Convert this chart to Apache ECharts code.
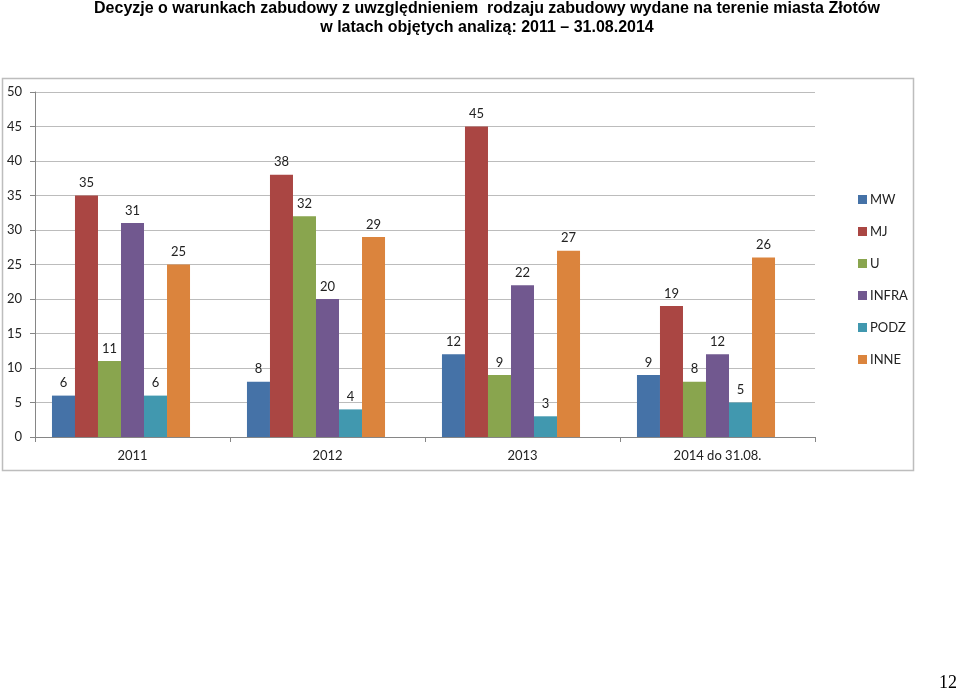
<!DOCTYPE html>
<html><head><meta charset="utf-8">
<script src="https://cdn.jsdelivr.net/npm/echarts@6/dist/echarts.min.js"></script>
<style>html,body{margin:0;padding:0;background:#fff;}#c{width:960px;height:690px;}</style>
</head><body><div id="c"></div>
<script>
var categories = ['2011', '2012', '2013', '2014 do 31.08.'];
var seriesNames = ['MW', 'MJ', 'U', 'INFRA', 'PODZ', 'INNE'];
var MW = [6, 8, 12, 9];
var MJ = [35, 38, 45, 19];
var U = [11, 32, 9, 8];
var INFRA = [31, 20, 22, 12];
var PODZ = [6, 4, 3, 5];
var INNE = [25, 29, 27, 26];
var yTicks = [0, 5, 10, 15, 20, 25, 30, 35, 40, 45, 50];
var colors = ['#4572A7', '#AA4643', '#89A54E', '#71588F', '#4198AF', '#DB843D'];

var values = [MW, MJ, U, INFRA, PODZ, INNE];
var font = 'Lato, "Open Sans", sans-serif';
var series = values.map(function (v, i) {
  return {
    name: seriesNames[i], type: 'bar', data: v, barGap: '0%', barCategoryGap: '17.4%',
    itemStyle: { color: colors[i] },
    label: { show: true, position: 'top', distance: 6, color: '#222', fontSize: 13, fontFamily: font }
  };
});
series.push({ name: 'empty', type: 'bar', data: [null, null, null, null], barGap: '0%', barCategoryGap: '17.4%' });

var chart = echarts.init(document.getElementById('c'), null, { renderer: 'canvas' });
chart.setOption({
  animation: false,
  backgroundColor: '#fff',
  title: {
    text: 'Decyzje o warunkach zabudowy z uwzględnieniem  rodzaju zabudowy wydane na terenie miasta Złotów\nw latach objętych analizą: 2011 – 31.08.2014',
    left: 482, top: -6, textAlign: 'center',
    textStyle: { fontFamily: '"Liberation Sans", Arial, sans-serif', fontWeight: 'bold', fontSize: 16, lineHeight: 19, color: '#000' }
  },
  graphic: [
    { type: 'rect', shape: { x: 2.5, y: 78.5, width: 911, height: 392 }, style: { fill: 'none', stroke: '#bdbdbd', lineWidth: 1.5 }, z: -1 },
    { type: 'text', left: 939, top: 674, style: { text: '12', fontFamily: '"Liberation Serif", serif', fontSize: 18, fill: '#000' } }
  ],
  legend: {
    data: seriesNames, orient: 'vertical', left: 853, top: 188, itemGap: 19,
    itemWidth: 9, itemHeight: 9, icon: 'rect',
    textStyle: { fontFamily: font, fontSize: 13, color: '#222', padding: [0, 0, 0, -2] }
  },
  grid: { left: 35, right: 145, top: 92, bottom: 253 },
  xAxis: {
    type: 'category', data: categories,
    axisLine: { lineStyle: { color: '#868686' } },
    axisTick: { show: true, length: 5, lineStyle: { color: '#868686' } },
    axisLabel: { fontFamily: font, fontSize: 13, color: '#222', margin: 12 }
  },
  yAxis: {
    type: 'value', min: yTicks[0], max: yTicks[yTicks.length - 1], interval: 5,
    axisLine: { show: true, lineStyle: { color: '#868686' } },
    axisTick: { show: true, length: 5, lineStyle: { color: '#868686' } },
    axisLabel: { fontFamily: font, fontSize: 13, color: '#222', margin: 13 },
    splitLine: { lineStyle: { color: '#bcbcbc' } }
  },
  series: series
});
</script></body></html>
